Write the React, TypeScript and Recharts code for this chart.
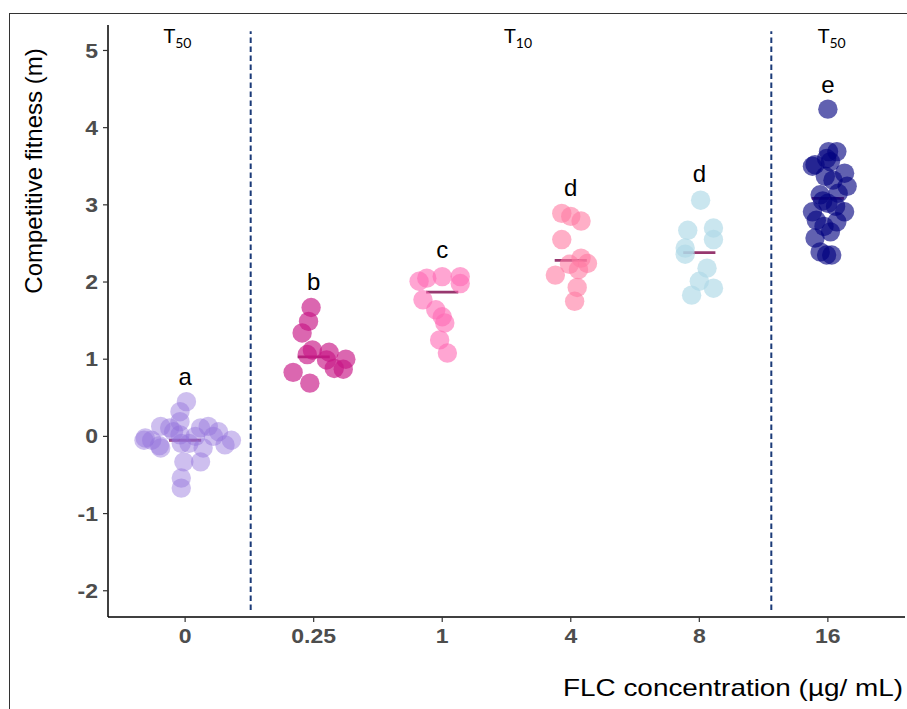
import React from 'react';
import { ScatterChart, Scatter, XAxis, YAxis, ReferenceLine, Label } from 'recharts';

// FLC concentrations (µg/mL), one category per group
const concentrations = ['0', '0.25', '1', '4', '8', '16'];

// competitive fitness (m) per replicate, with horizontal jitter (category units)
const fitness0 = [0.45, 0.32, 0.19, 0.13, 0.11, -0.05, -0.02, -0.15, 0.11, 0.13, 0.06, -0.05, -0.11, -0.15, -0.09, -0.33, -0.33, -0.54, -0.67, 0.02, 0.0, 0.06, 0.0, -0.05, -0.09, -0.12];
const jitter0 = [0.01, -0.04, -0.04, -0.19, -0.12, -0.32, -0.31, -0.19, 0.12, 0.18, 0.26, 0.36, 0.31, 0.14, -0.03, -0.01, 0.12, -0.03, -0.03, -0.04, 0.08, -0.09, 0.22, -0.26, 0.03, -0.2];
const fitness025 = [1.67, 1.49, 1.34, 1.06, 1.12, 1.09, 0.99, 1.0, 0.88, 0.87, 0.83, 0.69];
const jitter025 = [-0.02, -0.04, -0.09, -0.05, -0.01, 0.12, 0.1, 0.25, 0.16, 0.23, -0.16, -0.03];
const fitness1 = [2.01, 2.05, 2.07, 2.07, 1.98, 1.77, 1.64, 1.55, 1.47, 1.25, 1.08];
const jitter1 = [-0.18, -0.12, 0.0, 0.14, 0.14, -0.15, -0.05, 0.0, 0.02, -0.02, 0.04];
const fitness4 = [2.89, 2.85, 2.79, 2.55, 2.23, 2.31, 2.24, 2.16, 2.09, 1.93, 1.75];
const jitter4 = [-0.07, 0.0, 0.08, -0.07, -0.01, 0.08, 0.13, 0.06, -0.12, 0.05, 0.03];
const fitness8 = [3.06, 2.67, 2.7, 2.55, 2.44, 2.36, 2.18, 2.01, 1.92, 1.83];
const jitter8 = [0.01, -0.09, 0.11, 0.11, -0.11, -0.11, 0.06, 0.0, 0.11, -0.06];
const fitness16 = [4.24, 3.69, 3.69, 3.52, 3.56, 3.41, 3.37, 3.24, 3.32, 3.13, 3.15, 3.02, 2.91, 2.91, 2.8, 2.78, 2.72, 2.65, 2.57, 2.39, 2.35, 2.35, 3.6, 3.5, 3.05, 2.98];
const jitter16 = [0.0, 0.005, 0.07, -0.1, 0.02, 0.13, -0.02, 0.15, 0.04, -0.06, 0.08, 0.0, -0.12, 0.13, -0.09, 0.07, -0.03, 0.02, -0.1, -0.06, -0.01, 0.03, -0.01, -0.12, -0.04, 0.06];

const groupMeans = [-0.05, 1.03, 1.87, 2.28, 2.38, 3.085];
const groupLetters = ['a', 'b', 'c', 'd', 'd', 'e'];
const letterHeights = [0.67, 1.9, 2.31, 3.12, 3.29, 4.45];

const periodNames = ['50', '10', '50'];
const periodCenters = [0.94, 3.59, 6.03];
const periodBreaks = [1.51, 5.56];

const groupColors = ['#9370DB', '#C71585', '#FF69B4', '#FF7AA2', '#ADD8E6', '#000080'];
const groupOpacity = [0.45, 0.65, 0.6, 0.6, 0.65, 0.62];

const allFitness = [fitness0, fitness025, fitness1, fitness4, fitness8, fitness16];
const allJitter = [jitter0, jitter025, jitter1, jitter4, jitter8, jitter16];

const groups = allFitness.map((vals, g) =>
  vals.map((v, i) => ({ x: g + 1 + allJitter[g][i], y: v }))
);
const letterData = groupLetters.map((l, i) => ({ x: i + 1, y: letterHeights[i], label: l }));
const periodData = periodNames.map((s, i) => ({ x: periodCenters[i], y: 5.1, sub: s }));

const sans = '"Liberation Sans", Arial, sans-serif';

// the original figure's text is a bit wider than Arial, so stretch tick labels slightly
const WideTick = ({ x, y, payload, textAnchor, dy, format }: any) => (
  <g transform={`translate(${x},${y})`}>
    <text
      transform="scale(1.15,1)"
      textAnchor={textAnchor}
      dy={dy}
      fill="#4d4d4d"
      fontSize={20}
      fontWeight="bold"
      fontFamily={sans}
    >
      {format ? format(payload.value) : payload.value}
    </text>
  </g>
);

export default function App() {
  return (
    <div style={{ position: 'absolute', left: 0, top: 0, width: 907, height: 709, background: '#fff' }}>
      <div
        style={{
          position: 'absolute',
          left: 9,
          top: 13,
          width: 898,
          height: 696,
          borderLeft: '1.5px solid #333',
          borderTop: '1.5px solid #333',
        }}
      />
      <div style={{ position: 'absolute', left: 0, top: 0 }}>
        <ScatterChart width={907} height={709} margin={{ top: 25, right: 2, bottom: 0, left: 0 }}>
          <XAxis
            type="number"
            dataKey="x"
            domain={[0.4, 6.6]}
            ticks={[1, 2, 3, 4, 5, 6]}
            height={92}
            tickSize={5}
            tickMargin={7}
            axisLine={{ stroke: '#000', strokeWidth: 1.5 }}
            tickLine={{ stroke: '#333', strokeWidth: 1.2 }}
            tick={(p: any) => (
              <WideTick {...p} dy="0.71em" format={(v: number) => concentrations[v - 1]} />
            )}
            allowDataOverflow
          >
            <Label
              content={() => (
                <text
                  x={903}
                  y={696}
                  textAnchor="end"
                  fontSize={24}
                  fontFamily={sans}
                  fill="#000"
                  textLength={340}
                  lengthAdjust="spacingAndGlyphs"
                >
                  FLC concentration (µg/ mL)
                </text>
              )}
            />
          </XAxis>
          <YAxis
            type="number"
            dataKey="y"
            domain={[-2.34, 5.33]}
            ticks={[-2, -1, 0, 1, 2, 3, 4, 5]}
            width={108}
            tickSize={5}
            tickMargin={5}
            axisLine={{ stroke: '#000', strokeWidth: 1.5 }}
            tickLine={{ stroke: '#333', strokeWidth: 1.2 }}
            tick={(p: any) => <WideTick {...p} dy="0.355em" />}
            allowDataOverflow
          >
            <Label
              content={() => (
                <text
                  transform="translate(42,171) rotate(-90)"
                  textAnchor="middle"
                  fontSize={24}
                  fontFamily={sans}
                  fill="#000"
                >
                  Competitive fitness (m)
                </text>
              )}
            />
          </YAxis>

          {periodBreaks.map((b) => (
            <ReferenceLine
              key={`brk-${b}`}
              segment={[{ x: b, y: -2.25 }, { x: b, y: 5.25 }]}
              stroke="#1b3a78"
              strokeWidth={2}
              strokeDasharray="5.5 3.5"
            />
          ))}

          {groups.map((pts, g) => (
            <Scatter
              key={`grp-${g}`}
              data={pts}
              isAnimationActive={false}
              shape={(p: any) => (
                <circle cx={p.cx} cy={p.cy} r={9.7} fill={groupColors[g]} fillOpacity={groupOpacity[g]} />
              )}
            />
          ))}

          {groupMeans.map((m, i) => (
            <ReferenceLine
              key={`mean-${i}`}
              segment={[{ x: i + 1 - 0.125, y: m }, { x: i + 1 + 0.125, y: m }]}
              stroke="#97386f"
              strokeWidth={2.8}
            />
          ))}

          <Scatter
            data={letterData}
            isAnimationActive={false}
            shape={(p: any) => (
              <text x={p.cx} y={p.cy} textAnchor="middle" fontSize={24} fontFamily={sans} fill="#000">
                {p.payload.label}
              </text>
            )}
          />
          <Scatter
            data={periodData}
            isAnimationActive={false}
            shape={(p: any) => (
              <text x={p.cx} y={p.cy} textAnchor="middle" fontFamily="Lato, sans-serif" fill="#000">
                <tspan fontSize={20}>T</tspan>
                <tspan fontSize={14} dy={5}>
                  {p.payload.sub}
                </tspan>
              </text>
            )}
          />
        </ScatterChart>
      </div>
    </div>
  );
}
